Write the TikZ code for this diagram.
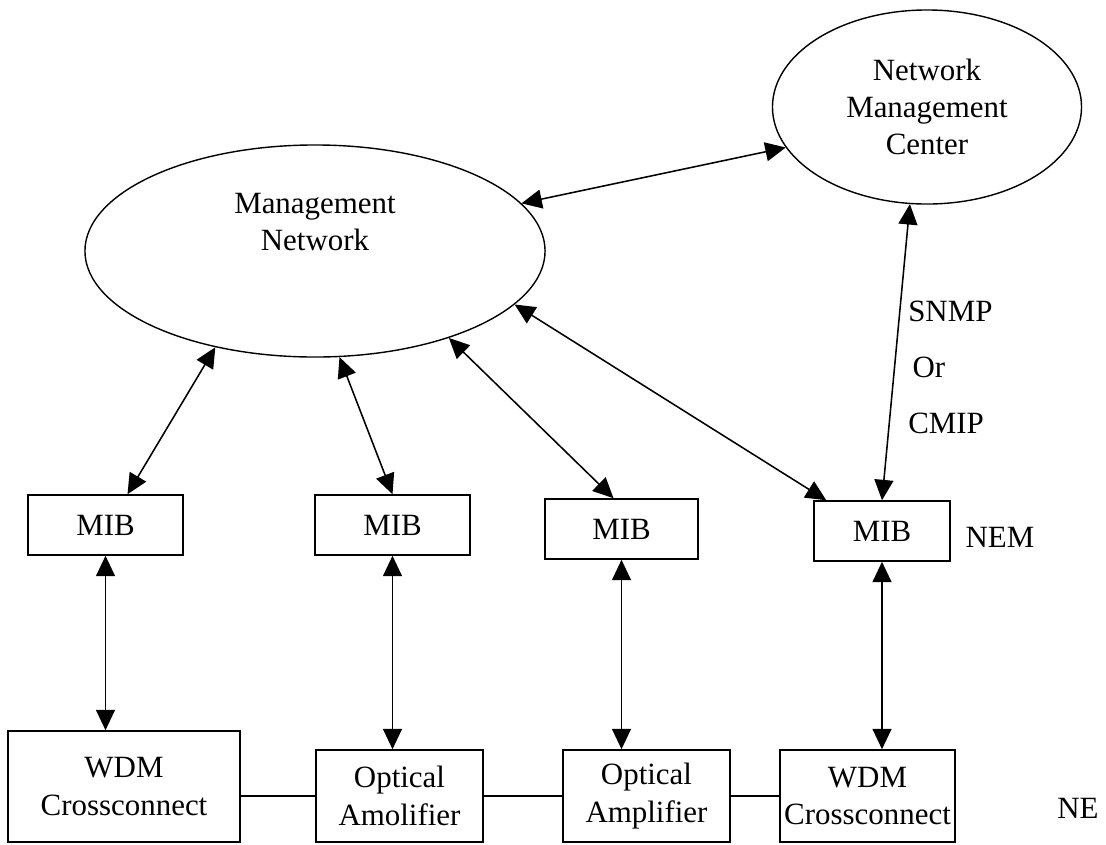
\documentclass[tikz,border=0pt]{standalone}
\usepackage{fontspec}
\setmainfont{Liberation Serif}
\usepackage{tikz}
\usetikzlibrary{positioning, shapes, arrows.meta}

\begin{document}
\begin{tikzpicture}[x=0.025cm, y=-0.025cm,
    txt/.style={font=\fontsize{22}{26.5}\selectfont, align=center, inner sep=0pt},
    cloud/.style={draw, ellipse, line width=1pt, inner sep=0pt, txt},
    mibbox/.style={draw, line width=1.1pt, minimum width=3.875cm, minimum height=1.5cm, txt},
    nebox/.style={draw, line width=1.1pt, minimum height=2.3cm, txt},
    biarrow/.style={{Triangle[length=14.5pt,width=13.5pt]}-{Triangle[length=14.5pt,width=13.5pt]}, line width=1.1pt}]
    \useasboundingbox[fill=white] (0,0) rectangle (1106,844);

    % management side
    \node[cloud, minimum width=7.725cm, minimum height=4.85cm] (nmc) at (927,107) {Network\\Management\\Center};
    \node[cloud, minimum width=11.5cm, minimum height=5.3cm] (mn) at (315,251) {};
    \node[txt] (mntxt) at (315,222) {Management\\Network};

    % NEM
    \node[mibbox] (mibA) at (105.5,525) {MIB};
    \node[mibbox] (mibB) at (392.5,525) {MIB};
    \node[mibbox, minimum width=3.825cm] (mibC) at (621.5,529) {MIB};
    \node[mibbox, minimum width=3.4cm] (mibD) at (882,531) {MIB};
    \node[txt] (nem) at (1000,537) {NEM};

    % NE
    \node[nebox, minimum width=5.8cm, minimum height=2.775cm] (wdmA) at (124,786.5) {WDM\\Crossconnect};
    \node[nebox, minimum width=4.175cm] (optA) at (399.5,796) {Optical\\Amolifier};
    \node[nebox, minimum width=4.175cm] (optB) at (646.5,796) {Optical\\Amplifier};
    \node[nebox, minimum width=4.375cm] (wdmB) at (867.5,796) {WDM\\Crossconnect};
    \node[txt] (ne) at (1078,808) {NE};

    \draw[biarrow] (mn.13) -- (nmc.196.5);
    \draw[biarrow] (nmc.-100) -- (mibD.north);
    \node[txt, align=left, anchor=west, font=\fontsize{22}{39.8}\selectfont] (proto) at (908,367) {SNMP\\\hspace{3pt}Or\\CMIP};

    \draw[biarrow] (mn.-136.7) -- ([xshift=0.55cm]mibA.north);
    \draw[biarrow] (mn.-77.8) -- (mibB.north);
    \draw[biarrow] (mn.-33) -- ([xshift=-0.2cm]mibC.north);
    \draw[biarrow] (mn.-15.4) -- ([xshift=0.325cm]mibD.north west);

    \draw[biarrow] (mibA.south) -- (mibA.south |- wdmA.north);
    \draw[biarrow] (mibB.south) -- (mibB.south |- optA.north);
    \draw[biarrow] (mibC.south) -- (mibC.south |- optB.north);
    \draw[biarrow] (mibD.south) -- (mibD.south |- wdmB.north);

    \draw[line width=1.1pt] (wdmA.east |- optA.west) -- (optA.west);
    \draw[line width=1.1pt] (optA.east) -- (optB.west);
    \draw[line width=1.1pt] (optB.east) -- (wdmB.west);
\end{tikzpicture}
\end{document}
